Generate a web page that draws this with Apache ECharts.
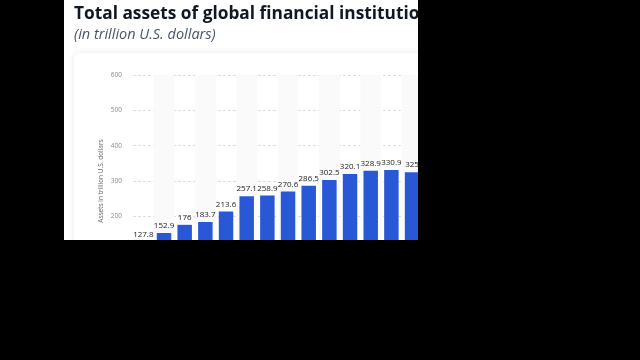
<!DOCTYPE html>
<html>
<head>
<meta charset="utf-8">
<script src="https://cdn.jsdelivr.net/npm/echarts@6/dist/echarts.min.js"></script>
<style>
html,body{margin:0;padding:0;background:#000;width:640px;height:360px;overflow:hidden;}
#clip{position:absolute;left:64px;top:0;width:354px;height:240px;overflow:hidden;background:#fff;}
#chart{position:absolute;left:-64px;top:0;width:640px;height:360px;}
</style>
</head>
<body>
<div id="clip"><div id="chart"></div></div>
<script>
var categories = ['2002','2003','2004','2005','2006','2007','2008','2009','2010','2011','2012','2013','2014','2015'];
var assets = [127.8, 152.9, 176, 183.7, 213.6, 257.1, 258.9, 270.6, 286.5, 302.5, 320.1, 328.9, 330.9, 325];
var yTicks = [0, 100, 200, 300, 400, 500, 600];
var titleText = 'Total assets of global financial institutions';
var subtitleText = '(in trillion U.S. dollars)';
var yName = 'Assets in trillion U.S. dollars';

var chart = echarts.init(document.getElementById('chart'), null, {renderer: 'canvas'});
chart.setOption({
  animation: false,
  backgroundColor: '#ffffff',
  title: {
    text: titleText,
    subtext: subtitleText,
    left: 69,
    top: 1,
    itemGap: 4,
    textStyle: {fontFamily: 'Open Sans', fontWeight: 'bold', fontSize: 17.3, color: '#0f1823'},
    subtextStyle: {fontFamily: 'Open Sans', fontStyle: 'italic', fontSize: 14.5, color: '#4a5568'}
  },
  graphic: [{
    type: 'rect', z: -10, silent: true,
    shape: {x: 74, y: 53, width: 420, height: 300, r: 6},
    style: {fill: '#ffffff', shadowBlur: 6, shadowColor: 'rgba(0,0,0,0.10)', shadowOffsetY: 0}
  }],
  grid: {left: 133, top: 75, width: 289.4, height: 212, containLabel: false},
  xAxis: {
    type: 'category',
    data: categories,
    axisLine: {show: false},
    axisTick: {show: false},
    axisLabel: {fontSize: 7, color: '#666'},
    splitArea: {show: true, areaStyle: {color: ['rgba(255,255,255,0)', '#fafafa']}}
  },
  yAxis: {
    type: 'value',
    min: yTicks[0],
    max: yTicks[yTicks.length - 1],
    interval: 100,
    name: yName,
    nameLocation: 'middle',
    nameGap: 28,
    nameTextStyle: {fontFamily: 'Open Sans', fontSize: 6.5, color: '#666'},
    axisLine: {show: false},
    axisTick: {show: false},
    axisLabel: {fontFamily: 'Open Sans', fontSize: 6.5, color: '#888', margin: 11},
    splitLine: {lineStyle: {color: '#dcdcdc', type: [3, 2], width: 1}}
  },
  series: [{
    type: 'bar',
    data: assets,
    barWidth: '70%',
    itemStyle: {color: '#2958d6'},
    label: {
      show: true, position: 'top', distance: 3,
      fontFamily: 'Open Sans', fontSize: 8, color: '#222'
    }
  }]
});
</script>
</body>
</html>
